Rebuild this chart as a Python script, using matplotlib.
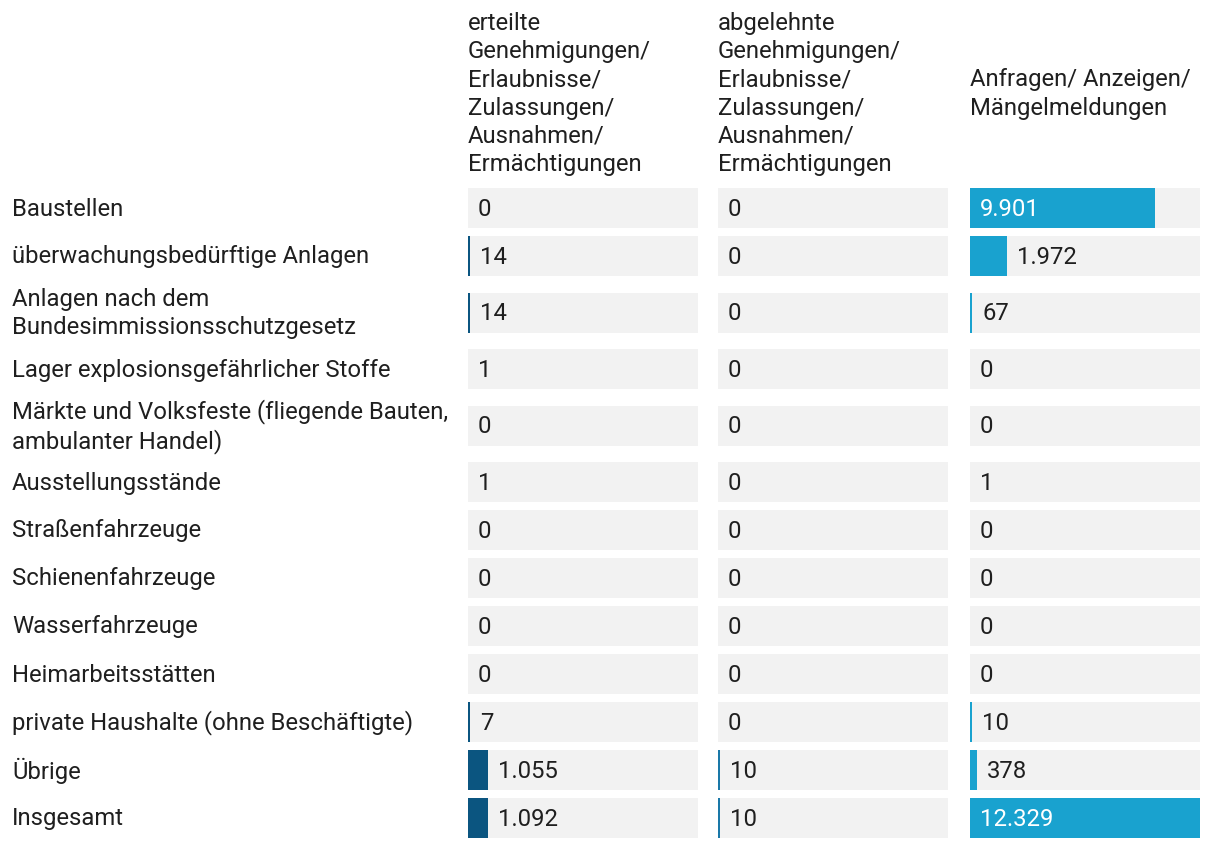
import numpy as np
import matplotlib.pyplot as plt

plt.rcParams['font.family'] = ['Roboto', 'DejaVu Sans']

# Daten
categories = [
    'Baustellen',
    'überwachungsbedürftige Anlagen',
    'Anlagen nach dem\nBundesimmissionsschutzgesetz',
    'Lager explosionsgefährlicher Stoffe',
    'Märkte und Volksfeste (fliegende Bauten,\nambulanter Handel)',
    'Ausstellungsstände',
    'Straßenfahrzeuge',
    'Schienenfahrzeuge',
    'Wasserfahrzeuge',
    'Heimarbeitsstätten',
    'private Haushalte (ohne Beschäftigte)',
    'Übrige',
    'Insgesamt',
]
headers = [
    'erteilte\nGenehmigungen/\nErlaubnisse/\nZulassungen/\nAusnahmen/\nErmächtigungen',
    'abgelehnte\nGenehmigungen/\nErlaubnisse/\nZulassungen/\nAusnahmen/\nErmächtigungen',
    'Anfragen/ Anzeigen/\nMängelmeldungen',
]
erteilt = [0, 14, 14, 1, 0, 1, 0, 0, 0, 0, 7, 1055, 1092]
abgelehnt = [0, 0, 0, 0, 0, 0, 0, 0, 0, 0, 0, 10, 10]
anfragen = [9901, 1972, 67, 0, 0, 1, 0, 0, 0, 0, 10, 378, 12329]

series = [erteilt, abgelehnt, anfragen]
colors = ['#0b5580', '#1a78a8', '#19a2cf']

W, H = 1220, 850
fig = plt.figure(figsize=(W / 100, H / 100), dpi=100)
fs = 17.2
txt_color = '#1f1f1f'
ls = 1.28

# Zeilenpositionen (Pixel)
bar_h = 40
gap = 8
y = 188
centers = []
for c in categories:
    n = c.count('\n') + 1
    h = bar_h if n == 1 else 57
    centers.append(y + h / 2)
    y += h + gap
centers = np.array(centers)

# Textebene
base = fig.add_axes([0, 0, 1, 1])
base.set_xlim(0, W)
base.set_ylim(H, 0)
base.axis('off')

for c, yc in zip(categories, centers):
    base.text(12, yc + 1, c, ha='left', va='center', fontsize=fs,
              color=txt_color, linespacing=ls)

col_x = [468, 718, 970]
col_w = 230
vmax = max(max(s) for s in series)
min_w = 2 / col_w * vmax

for x0, head, vals, color in zip(col_x, headers, series, colors):
    base.text(x0, 94, head, ha='left', va='center', fontsize=fs,
              color=txt_color, linespacing=ls)
    ax = fig.add_axes([x0 / W, 0, col_w / W, 1])
    ax.set_xlim(0, vmax)
    ax.set_ylim(H, 0)
    ax.axis('off')
    ax.barh(centers, vmax, height=bar_h, color='#f2f2f2', linewidth=0)
    # sehr kleine Werte (>1) bekommen eine Mindestbreite von 2 px
    widths = [max(v, min_w) if v > 1 else 0 for v in vals]
    ax.barh(centers, widths, height=bar_h, color=color, linewidth=0)
    for v, w, yc in zip(vals, widths, centers):
        label = f'{v:,}'.replace(',', '.')
        if w > vmax * 0.5:
            ax.annotate(label, (0, yc + 1), xytext=(7.2, 0),
                        textcoords='offset points', ha='left', va='center',
                        fontsize=fs, color='white')
        else:
            ax.annotate(label, (w, yc + 1), xytext=(7.2, 0),
                        textcoords='offset points', ha='left', va='center',
                        fontsize=fs, color=txt_color)

fig.savefig('out.png', dpi=100)
